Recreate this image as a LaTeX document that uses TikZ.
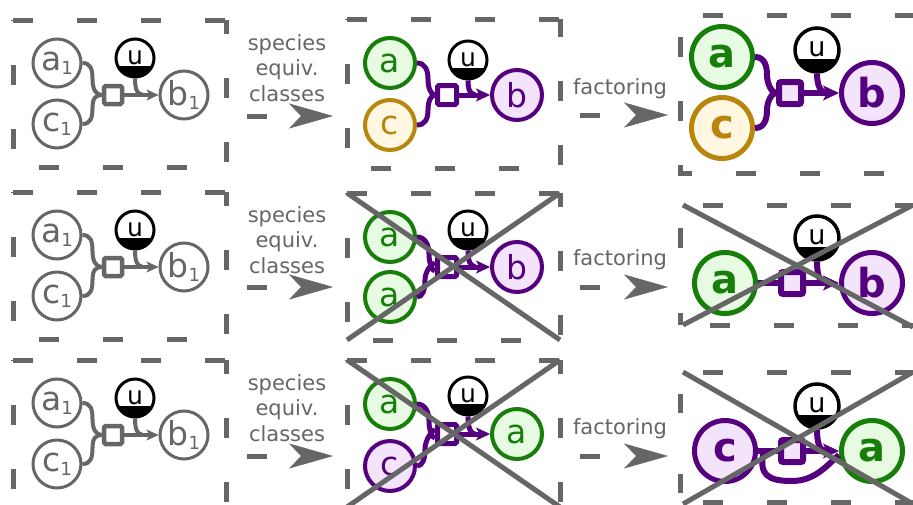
\documentclass[tikz,border=0pt]{standalone}
\usepackage{fontspec}
\setmainfont{DejaVu Sans}
\usetikzlibrary{arrows.meta}
\definecolor{gr}{HTML}{666666}
\definecolor{gn}{HTML}{177E09}
\definecolor{gnf}{HTML}{E7FBE3}
\definecolor{yl}{HTML}{B8860B}
\definecolor{ylf}{HTML}{FFF7E1}
\definecolor{pp}{HTML}{55007F}
\definecolor{ppf}{HTML}{F3E3FB}
\newcommand\fsz[1]{\fontsize{#1}{#1}\selectfont}
\newcommand\subone{\raisebox{-4pt}{\fsz{18}1}}
\tikzset{
 dbox/.style={draw=gr, line width=5pt, dash pattern=on 20pt off 44pt},
 xline/.style={draw=gr, line width=5pt},
 darr/.style={draw=gr, line width=5pt, dash pattern=on 20pt off 400pt,
   -{Stealth[length=44pt,width=25pt,inset=12pt,line width=0.5pt]}},
 lbl/.style={text=gr, font=\fontsize{21}{25.5}\selectfont, align=center, inner sep=0pt},
 g1/.style={circle, draw=gr, fill=white, line width=3pt, minimum size=48pt, inner sep=0pt, text=gr, font=\fsz{33}},
 s2/.style={circle, line width=4pt, minimum size=50pt, inner sep=0pt, font=\fsz{33}},
 s3/.style={circle, line width=5pt, minimum size=61pt, inner sep=0pt, font=\fsz{40}\bfseries},
 cG/.style={draw=gn, fill=gnf, text=gn},
 cY/.style={draw=yl, fill=ylf, text=yl},
 cP/.style={draw=pp, fill=ppf, text=pp},
 r1/.style={rectangle, draw=gr, fill=white, line width=4.5pt, minimum size=18pt, inner sep=0pt, rounded corners=1.5pt},
 r2/.style={rectangle, draw=pp, fill=white, line width=5pt, minimum size=19pt, inner sep=0pt, rounded corners=1.5pt},
 r3/.style={rectangle, draw=pp, fill=ppf, line width=6pt, minimum size=22pt, inner sep=0pt, rounded corners=2pt},
 u1/.style={circle, draw=black, fill=white, line width=3pt, minimum size=38pt, inner sep=0pt, font=\fsz{25},
   path picture={\fill[black] (path picture bounding box.south west) rectangle ([yshift=-8pt]path picture bounding box.east);}},
 u3/.style={circle, draw=black, fill=white, line width=3.5pt, minimum size=44pt, inner sep=0pt, font=\fsz{27},
   path picture={\fill[black] (path picture bounding box.south west) rectangle ([yshift=-9pt]path picture bounding box.east);}},
 k1/.style={draw=gr, line width=4pt},
 k2/.style={draw=pp, line width=5pt},
 k3/.style={draw=pp, line width=6pt},
 t1/.style={-{Stealth[length=12pt,width=11pt,inset=3pt,line width=0.5pt]}},
 t2/.style={-{Stealth[length=14pt,width=13pt,inset=3.5pt,line width=0.5pt]}},
 t3/.style={-{Stealth[length=16pt,width=15pt,inset=4pt,line width=0.5pt]}},
}
\newcommand\PanelOne[2]{%
\begin{scope}[shift={(0,#2)}]
\draw[dbox] (13,20) -- (226,20);
\draw[dbox, dash phase=19pt] (13,20) -- (13,167) -- (226,167) -- (226,20);
\node[g1] (#1a) at (57,63) {a\subone};
\node[g1] (#1c) at (57,124) {c\subone};
\node[r1] (#1r) at (113,95) {};
\node[u1] (#1u) at (135,58) {\raisebox{2pt}{u}};
\node[g1] (#1b) at (184,95) {b\subone};
\draw[k1] (#1a.east) .. controls +(8,0) and +(0,-10) .. ++(10,16) .. controls +(0,10) and +(-6,0) .. (#1r.west);
\draw[k1] (#1c.east) .. controls +(8,0) and +(0,10) .. ++(10,-16) .. controls +(0,-10) and +(-6,0) .. (#1r.west);
\draw[k1] (#1u.south) .. controls +(0,10) and +(-5,0) .. ++(7,16);
\draw[k1,t1] (#1r.east) -- (#1b.west);
\end{scope}}
\begin{document}
\begin{tikzpicture}[x=1pt,y=-1pt]
\useasboundingbox (0,0) rectangle (913,504);
\clip (0,0) rectangle (913,504);
\fill[white] (0,0) rectangle (913,504);
% column 1
\PanelOne{P}{0}
\PanelOne{Q}{172}
\PanelOne{R}{340}
% labels and inter-panel arrows
\node[lbl] (L1) at (287,68) {species\\equiv.\\classes};
\node[lbl] (L2) at (287,240) {species\\equiv.\\classes};
\node[lbl] (L3) at (287,408) {species\\equiv.\\classes};
\node[lbl] (L4) at (620,89) {factoring};
\node[lbl] (L5) at (620,260) {factoring};
\node[lbl] (L6) at (620,429) {factoring};
\coordinate (A1s) at (247,116); \coordinate (A1e) at (333,116);
\coordinate (A2s) at (580,115); \coordinate (A2e) at (668,115);
\coordinate (A3s) at (247,287); \coordinate (A3e) at (333,287);
\coordinate (A4s) at (580,287); \coordinate (A4e) at (668,287);
\coordinate (A5s) at (247,456); \coordinate (A5e) at (333,456);
\coordinate (A6s) at (580,456); \coordinate (A6e) at (668,456);
\draw[darr] (A1s) -- (A1e);
\draw[darr] (A2s) -- (A2e);
\draw[darr] (A3s) -- (A3e);
\draw[darr] (A4s) -- (A4e);
\draw[darr] (A5s) -- (A5e);
\draw[darr] (A6s) -- (A6e);
% panel 1,2
\draw[dbox] (347,19) -- (560,19);
\draw[dbox, dash phase=19pt] (347,19) -- (347,168) -- (560,168) -- (560,19);
\node[s2,cG] (Ba) at (390,63) {a};
\node[s2,cY] (Bc) at (390,125) {c};
\node[r2] (Br) at (447,95) {};
\node[u1] (Bu) at (468,60) {\raisebox{2pt}{u}};
\node[s2,cP] (Bb) at (517,95) {b};
\draw[k2] (Ba.east) .. controls +(8,0) and +(0,-9) .. ++(11,16) .. controls +(0,9) and +(-4,0) .. (Br.west);
\draw[k2] (Bc.east) .. controls +(8,0) and +(0,9) .. ++(11,-15) .. controls +(0,-9) and +(-4,0) .. (Br.west);
\draw[k2] (Bu.south) .. controls +(0,9) and +(-5,0) .. ++(7,14);
\draw[k2,t2] (Br.east) -- (Bb.west);
% panel 2,2
\draw[dbox] (347,193) -- (560,193);
\draw[dbox, dash phase=19pt] (347,193) -- (347,340) -- (560,340) -- (560,193);
\node[s2,cG] (Ca) at (390,237) {a};
\node[s2,cG] (Cd) at (390,297) {a};
\node[r2] (Cr) at (447,267) {};
\node[u1] (Cu) at (468,230) {\raisebox{2pt}{u}};
\node[s2,cP] (Cb) at (517,267) {b};
\draw[k2] (Ca.east) .. controls +(8,0) and +(0,-9) .. ++(12,17) .. controls +(0,9) and +(-3,0) .. ([yshift=-4pt]Cr.west);
\draw[k2] (Cd.east) .. controls +(6,0) and +(0,9) .. ++(8,-17) .. controls +(0,-9) and +(-3,0) .. ([yshift=4pt]Cr.west);
\draw[k2] (Cu.south) .. controls +(0,10) and +(-5,0) .. ++(7,16);
\draw[k2,t2] (Cr.east) -- (Cb.west);
\draw[xline] (347,193) -- (560,340);
\draw[xline] (347,340) -- (560,193);
% panel 3,2
\draw[dbox] (347,360) -- (560,360);
\draw[dbox, dash phase=19pt] (347,360) -- (347,507) -- (560,507) -- (560,360);
\node[s2,cG] (Da) at (390,404) {a};
\node[s2,cP] (Dc) at (390,466) {c};
\node[r2] (Dr) at (447,434) {};
\node[u1] (Du) at (468,396) {\raisebox{2pt}{u}};
\node[s2,cG] (Db) at (517,434) {a};
\draw[k2] (Da.east) .. controls +(8,0) and +(0,-9) .. ++(12,17) .. controls +(0,9) and +(-3,0) .. ([yshift=-4pt]Dr.west);
\draw[k2] (Dc.east) .. controls +(6,0) and +(0,9) .. ++(8,-17) .. controls +(0,-9) and +(-3,0) .. ([yshift=4pt]Dr.west);
\draw[k2] (Du.south) .. controls +(0,10) and +(-5,0) .. ++(7,17.5);
\draw[k2,t2] (Dr.east) -- (Db.west);
\draw[xline] (347,360) -- (560,507);
\draw[xline] (347,507) -- (560,360);
% panel 1,3
\draw[dbox, dash phase=41pt] (680,15) -- (960,15);
\draw[dbox, dash phase=42pt] (680,15) -- (680,173) -- (960,173);
\node[s3,cG] (Ea) at (722,57) {a};
\node[s3,cY] (Ec) at (722,128) {c};
\node[r3] (Er) at (790,93) {};
\node[u3] (Eu) at (817,50) {\raisebox{1.5pt}{u}};
\node[s3,cP] (Eb) at (872,93) {b};
\draw[k3] (Ea.east) .. controls +(9,0) and +(0,-10) .. ++(12,18) .. controls +(0,9) and +(-4,0) .. (Er.west);
\draw[k3] (Ec.east) .. controls +(9,0) and +(0,10) .. ++(12,-18) .. controls +(0,-9) and +(-4,0) .. (Er.west);
\draw[k3] (Eu.south) .. controls +(0,10) and +(-6,0) .. ++(9,19);
\draw[k3,t3] (Er.east) -- (Eb.west);
% panel 2,3
\draw[dbox, dash phase=41pt] (680,205) -- (960,205);
\draw[dbox, dash pattern=on 20pt off 65pt, dash phase=62pt] (680,205) -- (680,325);
\draw[dbox, dash phase=34pt] (680,325) -- (960,325);
\node[s3,cG] (Fa) at (725,283) {a};
\node[r3] (Fr) at (792,283) {};
\node[u3] (Fu) at (817,238) {\raisebox{1.5pt}{u}};
\node[s3,cP] (Fb) at (872,283) {b};
\draw[k3] (Fa.east) -- (Fr.west);
\draw[k3] (Fu.south) .. controls +(0,11) and +(-6,0) .. ++(8,21);
\draw[k3,t3] (Fr.east) -- (Fb.west);
\draw[xline] (683,205) -- (913,327);
\draw[xline] (683,325) -- (913,205);
% panel 3,3
\draw[dbox, dash phase=41pt] (680,372) -- (960,372);
\draw[dbox, dash pattern=on 19pt off 61pt, dash phase=58pt] (680,372) -- (680,502);
\draw[dbox, dash phase=41pt] (680,502) -- (960,502);
\node[s3,cP] (Gc) at (725,451) {c};
\node[r3] (Gr) at (792,451) {};
\node[u3] (Gu) at (817,406) {\raisebox{1.5pt}{u}};
\node[s3,cG] (Ga) at (872,451) {a};
\draw[k3] (Gc.east) -- (Gr.west);
\draw[k3] ([xshift=6pt]Gc.east) .. controls +(-6,24) and +(-24,0) .. ++(28,30) .. controls +(24,0) and +(-10,8) .. ([yshift=-4pt]Ga.west);
\draw[k3] (Gu.south) .. controls +(0,11) and +(-6,0) .. ++(8,21);
\draw[k3,t3] (Gr.east) -- (Ga.west);
\draw[xline] (683,372) -- (913,504);
\draw[xline] (683,504) -- (913,372);
\end{tikzpicture}
\end{document}
